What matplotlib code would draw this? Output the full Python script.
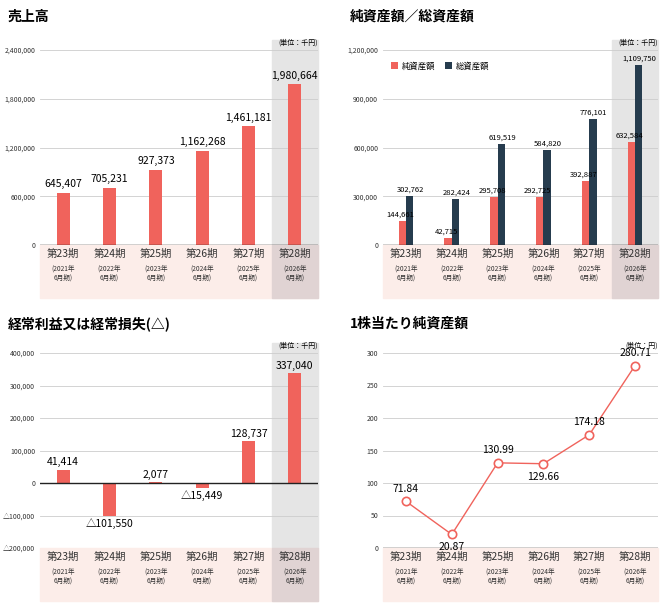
import numpy as np
import matplotlib.pyplot as plt
from matplotlib.patches import Rectangle
from matplotlib.transforms import blended_transform_factory

plt.rcParams['font.family'] = ['Noto Sans CJK JP', 'DejaVu Sans']

periods = ['23', '24', '25', '26', '27', '28']
years = ['2021', '2022', '2023', '2024', '2025', '2026']
sales = [645407, 705231, 927373, 1162268, 1461181, 1980664]
net_assets = [144661, 42715, 295708, 292725, 392887, 632584]
total_assets = [302762, 282424, 619519, 584820, 776101, 1109750]
ordinary = [41414, -101550, 2077, -15449, 128737, 337040]
bps = [71.84, 20.87, 130.99, 129.66, 174.18, 280.71]

RED = '#F0635C'
NAVY = '#263C4E'
PINK = '#FCEDE9'
GRAY = '#E5E5E5'
GRAYPINK = '#E0D3D3'

W, H = 669, 609
fig = plt.figure(figsize=(W / 100, H / 100), dpi=100)


def fmt(v):
    s = f'{abs(v):,}'
    return '△' + s if v < 0 else s


def make_ax(x0, y0, x1, y1, gray=True):
    ax = fig.add_axes([x0 / W, 1 - y1 / H, (x1 - x0) / W, (y1 - y0) / H])
    ax.set_xlim(-0.5, 5.5)
    for s in ['top', 'right', 'left', 'bottom']:
        ax.spines[s].set_visible(False)
    ax.tick_params(length=0, labelsize=5, colors='#333333')
    ax.set_xticks([])
    ax.grid(axis='y', color='#cccccc', lw=0.6)
    ax.set_axisbelow(True)
    tr = blended_transform_factory(ax.transData, ax.transAxes)
    band = 53 / (y1 - y0)
    ax.add_patch(Rectangle((-0.5, -band), 6, band, transform=tr, color=PINK,
                           clip_on=False, zorder=0))
    if gray:
        ax.add_patch(Rectangle((4.5, 0), 1, 1.05, transform=tr, color=GRAY,
                               clip_on=False, zorder=0))
        ax.add_patch(Rectangle((4.5, -band), 1, band, transform=tr, color=GRAYPINK,
                               clip_on=False, zorder=0))
    for i in range(6):
        ax.text(i, -0.02, f'第{periods[i]}期', transform=tr, ha='center', va='top',
                fontsize=7.5, color='#333333')
        ax.text(i, -0.1, f'({years[i]}年\n6月期)', transform=tr, ha='center', va='top',
                fontsize=4.8, color='#333333', linespacing=1.1)
    return ax, tr


def title(x, y, s):
    fig.text(x / W, 1 - y / H, s, fontsize=10, fontweight='bold', va='center')


def unit(ax, s):
    ax.text(1.0, 1.02, s, transform=ax.transAxes, ha='right', va='bottom', fontsize=5)


x = np.arange(6)

# 売上高
title(8, 17, '売上高')
ax, tr = make_ax(40, 50, 318, 245)
ax.set_ylim(0, 2400000)
ax.set_yticks(np.arange(0, 2400001, 600000))
ax.set_yticklabels([f'{v:,}' for v in np.arange(0, 2400001, 600000)])
ax.bar(x, sales, width=0.28, color=RED, zorder=2)
for i, v in enumerate(sales):
    ax.text(i, v + 40000, fmt(v), ha='center', va='bottom', fontsize=7.5)
ax.axhline(0, color='#222222', lw=1)
unit(ax, '(単位：千円)')

# 純資産額／総資産額
title(350, 17, '純資産額／総資産額')
ax, tr = make_ax(383, 50, 658, 245)
ax.set_ylim(0, 1200000)
ax.set_yticks(np.arange(0, 1200001, 300000))
ax.set_yticklabels([f'{v:,}' for v in np.arange(0, 1200001, 300000)])
ax.bar(x - 0.08, net_assets, width=0.16, color=RED, zorder=2, label='純資産額')
ax.bar(x + 0.08, total_assets, width=0.16, color=NAVY, zorder=2, label='総資産額')
for i in range(6):
    ax.text(i - 0.12, net_assets[i] + 15000, fmt(net_assets[i]), ha='center',
            va='bottom', fontsize=5.5)
    ax.text(i + 0.1, total_assets[i] + 15000, fmt(total_assets[i]), ha='center',
            va='bottom', fontsize=5.5)
ax.axhline(0, color='#222222', lw=1)
ax.legend(loc='upper left', bbox_to_anchor=(0.0, 0.98), ncol=2, frameon=False,
          fontsize=6, handlelength=0.9, handleheight=0.9, columnspacing=1.2,
          handletextpad=0.4)
unit(ax, '(単位：千円)')

# 経常利益又は経常損失
title(8, 324, '経常利益又は経常損失(△)')
ax, tr = make_ax(40, 353, 318, 548)
ax.set_ylim(-200000, 400000)
yt = np.arange(-200000, 400001, 100000)
ax.set_yticks(yt)
ax.set_yticklabels([fmt(int(v)) for v in yt])
ax.bar(x, ordinary, width=0.28, color=RED, zorder=2)
for i, v in enumerate(ordinary):
    if v >= 0:
        ax.text(i, v + 8000, fmt(v), ha='center', va='bottom', fontsize=7.5)
    else:
        ax.text(i, v - 6000, fmt(v), ha='center', va='top', fontsize=7.5)
ax.axhline(0, color='#222222', lw=1)
unit(ax, '(単位：千円)')

# 1株当たり純資産額
title(350, 324, '1株当たり純資産額')
ax, tr = make_ax(383, 353, 658, 548, gray=False)
ax.set_ylim(0, 300)
ax.set_yticks(np.arange(0, 301, 50))
ax.plot(x, bps, color=RED, lw=1, marker='o', ms=6, mfc='white', mec=RED,
        mew=1.2, zorder=3)
offs = [(0, 12), (0, -12), (0, 12), (0, -12), (0, 12), (0, 12)]
for i, v in enumerate(bps):
    dy = offs[i][1]
    ax.text(i, v + dy, f'{v:.2f}', ha='center', va='bottom' if dy > 0 else 'top',
            fontsize=7.5)
ax.axhline(0, color='#222222', lw=1)
unit(ax, '(単位：円)')

fig.savefig('out.png', dpi=100)
